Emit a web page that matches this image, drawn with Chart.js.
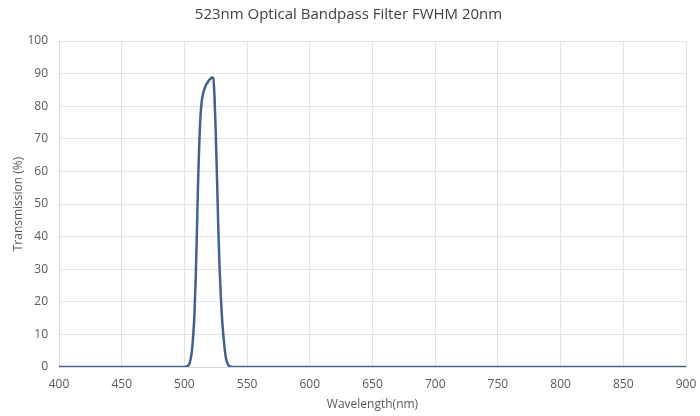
<!DOCTYPE html>
<html>
<head>
<meta charset="utf-8">
<script src="https://cdn.jsdelivr.net/npm/chart.js@4"></script>
<style>
html,body{margin:0;padding:0;background:#fff;}
#wrap{width:700px;height:416px;}
</style>
</head>
<body>
<div id="wrap"><canvas id="c" width="700" height="416"></canvas></div>
<script>
const chartTitle = "523nm Optical Bandpass Filter FWHM 20nm";
const xTitle = "Wavelength(nm)";
const yTitle = "Transmission (%)";
const wavelengths = [400,450,500,502,504,505,506,507,508,509,510,511,512,513,514,515,516,517,518,519,520,521,522,523,524,525,526,527,528,529,530,531,532,533,534,535,537,540,600,700,800,900];
const transmission = [0,0,0,0.2,1,2.5,5,9.5,16,27,42,58,70,78,82,84,85.3,86.3,87,87.6,88.1,88.5,88.8,88.6,83,72,58,43,31,22,15,10,6,3,1.5,0.6,0.1,0,0,0,0,0];

const pts = wavelengths.map((w,i)=>({x:w,y:transmission[i]}));
const tickColor = '#595959';
const font = "'Open Sans', sans-serif";

new Chart(document.getElementById('c'), {
  type: 'line',
  data: { datasets: [{
    data: pts,
    borderColor: '#41618F',
    borderWidth: 2.5,
    pointRadius: 0,
    fill: false,
    cubicInterpolationMode: 'monotone'
  }]},
  options: {
    responsive: false,
    animation: false,
    layout: { padding: { left: 11, right: 14, top: 0, bottom: 0 } },
    plugins: {
      legend: { display: false },
      tooltip: { enabled: false },
      title: {
        display: true, text: chartTitle, color: '#404040',
        font: { family: font, size: 15, weight: 'normal' },
        padding: { top: 6, bottom: 17 }
      }
    },
    scales: {
      x: {
        type: 'linear', min: 400, max: 900,
        ticks: { stepSize: 50, color: tickColor, font: { family: font, size: 12 }, padding: 10, maxRotation: 0 },
        grid: { color: '#E3E3E3', drawTicks: false },
        border: { color: '#D9D9D9' },
        title: { display: true, text: xTitle, color: tickColor, font: { family: font, size: 12 }, padding: { top: 5 } },
        afterFit: s => { s.height = 49; s.paddingLeft = 0; s.paddingRight = 0; }
      },
      y: {
        min: 0, max: 100,
        ticks: { stepSize: 10, color: tickColor, font: { family: font, size: 12 }, padding: 11 },
        grid: { color: '#E3E3E3', drawTicks: false },
        border: { color: '#D9D9D9' },
        title: { display: true, text: yTitle, color: tickColor, font: { family: font, size: 12 }, padding: { top: 0, bottom: 0 } },
        afterFit: s => { s.width = 48; s.paddingTop = 0; s.paddingBottom = 0; }
      }
    }
  }
});
</script>
</body>
</html>
